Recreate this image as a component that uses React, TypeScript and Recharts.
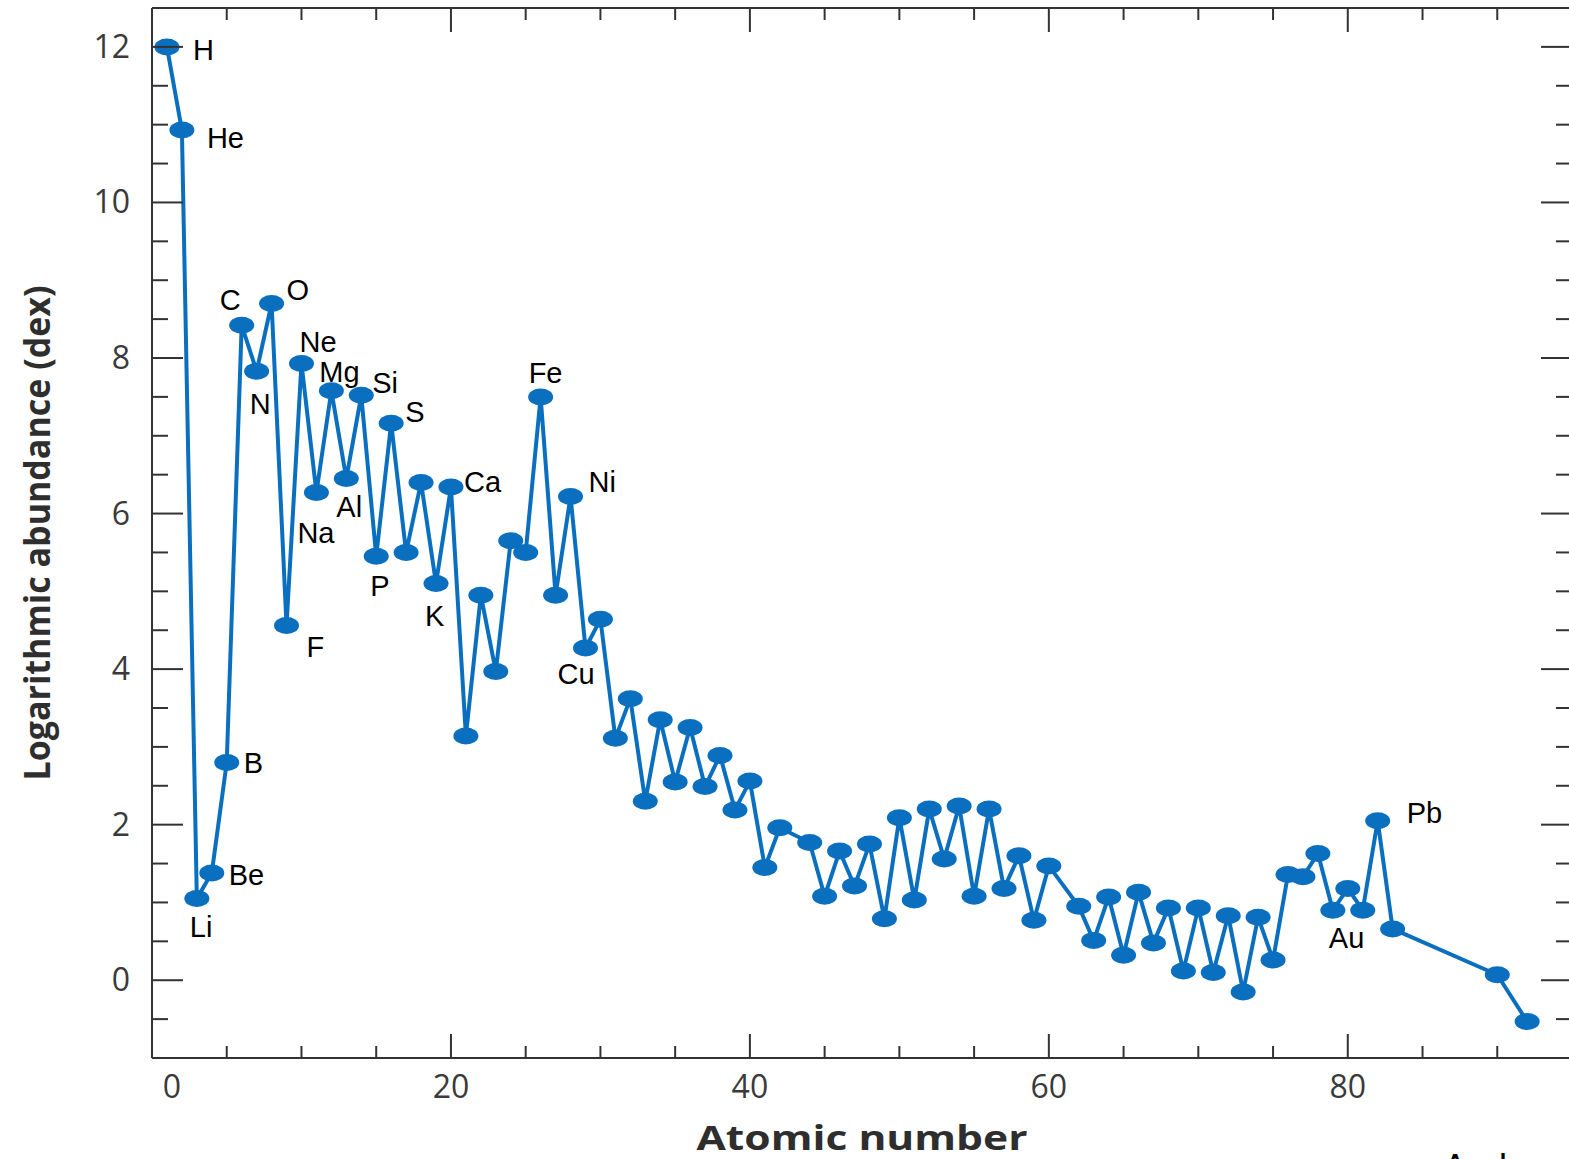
import { LineChart, Line, XAxis, YAxis } from "recharts";

// atomic number, element symbol and log abundance (dex, H = 12)
const atomicNumbers = [
  1, 2, 3, 4, 5, 6, 7, 8, 9, 10, 11, 12, 13, 14, 15, 16, 17, 18, 19, 20,
  21, 22, 23, 24, 25, 26, 27, 28, 29, 30, 31, 32, 33, 34, 35, 36, 37, 38, 39, 40,
  41, 42, 44, 45, 46, 47, 48, 49, 50, 51, 52, 53, 54, 55, 56, 57, 58, 59, 60,
  62, 63, 64, 65, 66, 67, 68, 69, 70, 71, 72, 73, 74, 75, 76, 77, 78, 79, 80,
  81, 82, 83, 90, 92,
];

const symbols = [
  "H", "He", "Li", "Be", "B", "C", "N", "O", "F", "Ne", "Na", "Mg", "Al", "Si", "P", "S", "Cl", "Ar", "K", "Ca",
  "Sc", "Ti", "V", "Cr", "Mn", "Fe", "Co", "Ni", "Cu", "Zn", "Ga", "Ge", "As", "Se", "Br", "Kr", "Rb", "Sr", "Y", "Zr",
  "Nb", "Mo", "Ru", "Rh", "Pd", "Ag", "Cd", "In", "Sn", "Sb", "Te", "I", "Xe", "Cs", "Ba", "La", "Ce", "Pr", "Nd",
  "Sm", "Eu", "Gd", "Tb", "Dy", "Ho", "Er", "Tm", "Yb", "Lu", "Hf", "Ta", "W", "Re", "Os", "Ir", "Pt", "Au", "Hg",
  "Tl", "Pb", "Bi", "Th", "U",
];

const logAbundance = [
  12.0, 10.93, 1.05, 1.38, 2.8, 8.42, 7.83, 8.7, 4.56, 7.93, 6.27, 7.58, 6.45, 7.52, 5.45, 7.16, 5.5, 6.4, 5.1, 6.34,
  3.14, 4.95, 3.97, 5.65, 5.5, 7.5, 4.95, 6.22, 4.27, 4.64, 3.11, 3.62, 2.3, 3.35, 2.55, 3.25, 2.49, 2.89, 2.19, 2.56,
  1.45, 1.96, 1.77, 1.08, 1.66, 1.21, 1.75, 0.79, 2.09, 1.03, 2.2, 1.56, 2.24, 1.08, 2.2, 1.18, 1.6, 0.77, 1.47,
  0.95, 0.51, 1.07, 0.32, 1.13, 0.48, 0.93, 0.12, 0.93, 0.1, 0.83, -0.15, 0.81, 0.26, 1.36, 1.33, 1.63, 0.9, 1.18,
  0.9, 2.05, 0.66, 0.07, -0.53,
];

const labelledElements = [
  "H", "He", "Li", "Be", "B", "C", "N", "O", "F", "Ne", "Na", "Mg", "Al", "Si", "P", "S", "K", "Ca",
  "Fe", "Ni", "Cu", "Au", "Pb",
];

const xTickValues = [0, 5, 10, 15, 20, 25, 30, 35, 40, 45, 50, 55, 60, 65, 70, 75, 80, 85, 90, 95];
const xTickLabels = [0, 20, 40, 60, 80];
const yTickValues = [
  -0.5, 0, 0.5, 1, 1.5, 2, 2.5, 3, 3.5, 4, 4.5, 5, 5.5, 6, 6.5, 7, 7.5, 8, 8.5, 9, 9.5, 10, 10.5, 11, 11.5, 12,
];
const yTickLabels = [0, 2, 4, 6, 8, 10, 12];

const BLUE = "#0b6fbf";
const AXIS = "#333333";
const TICK_TEXT = "#3a3a3a";

// label placement relative to the marker centre (x offset, baseline offset)
const labelOffset: Record<string, [number, number]> = {
  H: [26, 13],
  He: [25, 18],
  Li: [-7, 38],
  Be: [17, 12],
  B: [17, 11],
  C: [-22, -15],
  N: [-7, 43],
  O: [15, -4],
  F: [20, 31],
  Ne: [-2, -11],
  Na: [-19, 50],
  Mg: [-12, -9],
  Al: [-10, 38],
  Si: [11, -2],
  P: [-6, 40],
  S: [14, -1],
  K: [-11, 42],
  Ca: [13, 5],
  Fe: [-12, -14],
  Ni: [18, -4],
  Cu: [-28, 36],
  Au: [-4, 38],
  Pb: [29, 2],
};

const data = atomicNumbers.map((z, i) => ({
  z,
  abundance: logAbundance[i],
  symbol: symbols[i],
}));

function BottomTick(props: any) {
  const { x, y, payload } = props;
  const v = payload.value;
  const major = v % 20 === 0;
  return (
    <g>
      <line x1={x} x2={x} y1={y} y2={y - (major ? 24 : 12)} stroke={AXIS} strokeWidth={2} />
      {xTickLabels.includes(v) && (
        <text
          x={x + (v === 0 ? 20 : 0)}
          y={y + 40}
          textAnchor="middle"
          fontFamily="Open Sans"
          fontSize={32}
          fill={TICK_TEXT}
        >
          {v}
        </text>
      )}
    </g>
  );
}

function TopTick(props: any) {
  const { x, y, payload } = props;
  const major = payload.value % 20 === 0;
  return <line x1={x} x2={x} y1={y} y2={y + (major ? 24 : 12)} stroke={AXIS} strokeWidth={2} />;
}

function LeftTick(props: any) {
  const { x, y, payload } = props;
  const v = payload.value;
  const major = yTickLabels.includes(v);
  return (
    <g>
      <line x1={x} x2={x + (major ? 31 : 16)} y1={y} y2={y} stroke={AXIS} strokeWidth={2} />
      {major && (
        <text x={x - 22} y={y + 11} textAnchor="end" fontFamily="Open Sans" fontSize={32} fill={TICK_TEXT}>
          {v}
        </text>
      )}
    </g>
  );
}

function RightTick(props: any) {
  const { x, y, payload } = props;
  const major = yTickLabels.includes(payload.value);
  return <line x1={x} x2={x - (major ? 31 : 16)} y1={y} y2={y} stroke={AXIS} strokeWidth={2} />;
}

function ElementDot(props: any) {
  const { cx, cy, payload, index } = props;
  const off = labelOffset[payload.symbol];
  const show = labelledElements.includes(payload.symbol) && off;
  return (
    <g key={`dot-${index}`}>
      <ellipse cx={cx} cy={cy} rx={12.5} ry={8.5} fill={BLUE} />
      {show && (
        <text
          x={cx + off[0]}
          y={cy + off[1]}
          fontFamily="Liberation Sans, Arial"
          fontSize={29}
          fill="#000"
        >
          {payload.symbol}
        </text>
      )}
    </g>
  );
}

export default function App() {
  return (
    <div
      style={{
        position: "absolute",
        left: 0,
        top: 0,
        width: 1569,
        height: 1159,
        overflow: "hidden",
        background: "#fff",
      }}
    >
      <LineChart width={1600} height={1159} data={data} margin={{ top: 7, right: 27, bottom: 0, left: 0 }}>
        <XAxis
          dataKey="z"
          type="number"
          domain={[0, 95]}
          ticks={xTickValues}
          interval={0}
          height={101}
          tickSize={0}
          tickMargin={0}
          tick={<BottomTick />}
          axisLine={{ stroke: AXIS, strokeWidth: 2 }}
          allowDataOverflow
        />
        <XAxis
          xAxisId="top"
          orientation="top"
          dataKey="z"
          type="number"
          domain={[0, 95]}
          ticks={xTickValues}
          interval={0}
          height={1}
          tickSize={0}
          tickMargin={0}
          tick={<TopTick />}
          axisLine={{ stroke: AXIS, strokeWidth: 2 }}
          allowDataOverflow
        />
        <YAxis
          type="number"
          domain={[-1, 12.5]}
          ticks={yTickValues}
          interval={0}
          width={152}
          tickSize={0}
          tickMargin={0}
          tick={<LeftTick />}
          axisLine={{ stroke: AXIS, strokeWidth: 2 }}
          allowDataOverflow
        />
        <YAxis
          yAxisId="right"
          orientation="right"
          type="number"
          domain={[-1, 12.5]}
          ticks={yTickValues}
          interval={0}
          width={1}
          tickSize={0}
          tickMargin={0}
          tick={<RightTick />}
          axisLine={{ stroke: AXIS, strokeWidth: 2 }}
          allowDataOverflow
        />
        {/* invisible series tying the frame axes to the data */}
        <Line
          xAxisId="top"
          yAxisId="right"
          type="linear"
          dataKey="abundance"
          stroke="none"
          dot={false}
          activeDot={false}
          isAnimationActive={false}
        />
        <Line
          type="linear"
          dataKey="abundance"
          stroke={BLUE}
          strokeWidth={4}
          dot={(p: any) => <ElementDot {...p} />}
          activeDot={false}
          isAnimationActive={false}
        />
      </LineChart>
      <svg
        width={1569}
        height={1159}
        style={{ position: "absolute", left: 0, top: 0, pointerEvents: "none" }}
      >
        <text
          transform="translate(50, 533) rotate(-90)"
          textAnchor="middle"
          fontFamily="Open Sans"
          fontWeight="bold"
          fontSize={36}
          fill="#2e2e2e"
          textLength={495}
          lengthAdjust="spacingAndGlyphs"
        >
          Logarithmic abundance (dex)
        </text>
        <text
          x={862}
          y={1150}
          textAnchor="middle"
          fontFamily="Open Sans"
          fontWeight="bold"
          fontSize={34}
          fill="#2e2e2e"
          textLength={331}
          lengthAdjust="spacingAndGlyphs"
        >
          Atomic number
        </text>
        <text x={1443} y={1180} fontFamily="Liberation Sans, Arial" fontSize={36} fill="#000">
          And
        </text>
      </svg>
    </div>
  );
}
